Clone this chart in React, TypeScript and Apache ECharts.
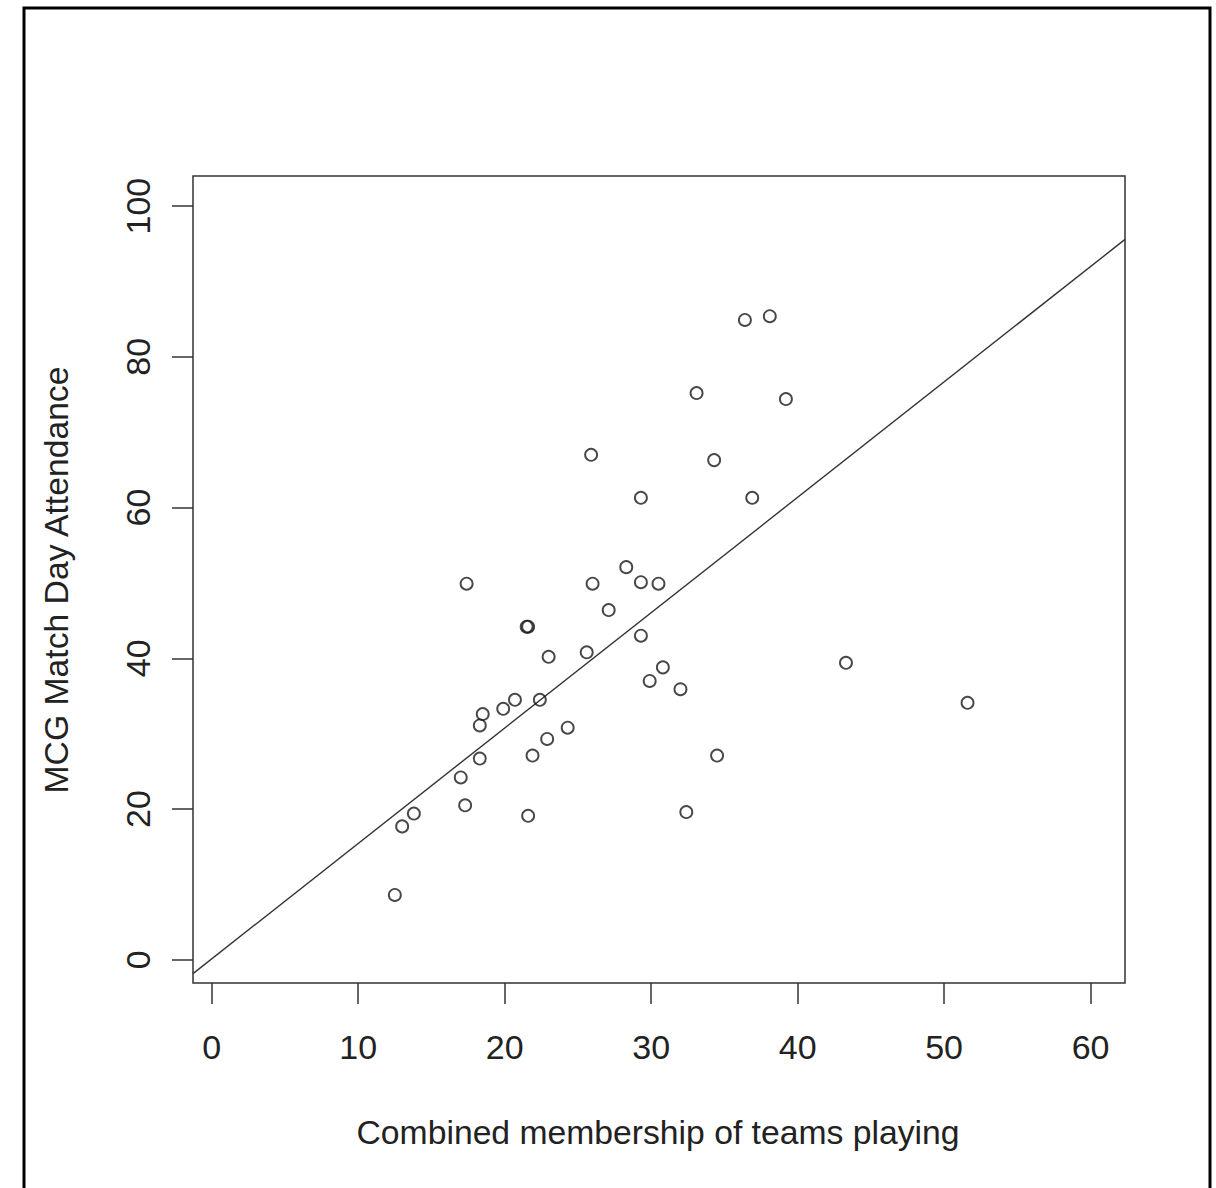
import React, { useEffect, useRef } from "react";
import * as echarts from "echarts";

// Combined membership of teams playing (x) and MCG match day attendance (y)
const membership = [
  12.5, 13.0, 13.8, 17.0, 17.3, 17.4, 18.3, 18.5, 18.3, 19.9,
  20.7, 21.6, 21.5, 21.6, 21.9, 22.4, 22.9, 23.0, 24.3, 25.6,
  25.9, 26.0, 27.1, 28.3, 29.3, 29.3, 29.3, 29.9, 30.5, 30.8,
  32.0, 32.4, 33.1, 34.3, 34.5, 36.4, 36.9, 38.1, 39.2, 43.3,
  51.6,
];
const attendance = [
  8.6, 17.7, 19.4, 24.2, 20.5, 49.9, 31.1, 32.6, 26.7, 33.3,
  34.5, 19.1, 44.2, 44.2, 27.1, 34.5, 29.3, 40.2, 30.8, 40.8,
  67.0, 49.9, 46.4, 52.1, 61.3, 50.1, 43.0, 37.0, 49.9, 38.8,
  35.9, 19.6, 75.2, 66.3, 27.1, 84.9, 61.3, 85.4, 74.4, 39.4,
  34.1,
];

const fitIntercept = 0.13;
const fitSlope = 1.531;

// Axis extents and tick labels
const xRange = [-1.28, 62.35];
const yRange = [-3.08, 104.0];
const xTicks = [0, 10, 20, 30, 40, 50, 60];
const yTicks = [0, 20, 40, 60, 80, 100];

const xTitle = "Combined membership of teams playing";
const yTitle = "MCG Match Day Attendance";

export default function App() {
  const ref = useRef<HTMLDivElement>(null);

  useEffect(() => {
    if (!ref.current) return;
    const chart = echarts.init(ref.current, null, { renderer: "svg" });
    const font = "'Liberation Sans', Arial, sans-serif";
    const ink = "#222";
    const points = membership.map((x, i) => [x, attendance[i]]);
    const fitLine = xRange.map((x) => [x, fitIntercept + fitSlope * x]);

    chart.setOption({
      animation: false,
      backgroundColor: "#fff",
      grid: {
        left: 193,
        top: 176,
        width: 932,
        height: 807,
        show: true,
        borderColor: "#333",
        borderWidth: 1.5,
        backgroundColor: "transparent",
      },
      xAxis: {
        type: "value",
        min: xRange[0],
        max: xRange[1],
        axisLine: { show: false, onZero: false },
        splitLine: { show: false },
        axisTick: {
          show: true,
          inside: false,
          length: 21,
          customValues: xTicks,
          lineStyle: { color: "#333", width: 1.5 },
        },
        axisLabel: {
          customValues: xTicks,
          margin: 47,
          fontSize: 34,
          fontFamily: font,
          color: ink,
        },
      },
      yAxis: {
        type: "value",
        min: yRange[0],
        max: yRange[1],
        axisLine: { show: false, onZero: false },
        splitLine: { show: false },
        axisTick: {
          show: true,
          inside: false,
          length: 21,
          customValues: yTicks,
          lineStyle: { color: "#333", width: 1.5 },
        },
        axisLabel: {
          customValues: yTicks,
          rotate: 90,
          margin: 38,
          fontSize: 34,
          fontFamily: font,
          color: ink,
        },
      },
      series: [
        {
          type: "line",
          data: fitLine,
          symbol: "none",
          silent: true,
          lineStyle: { color: "#333", width: 1.4 },
          z: 1,
        },
        {
          type: "scatter",
          data: points,
          symbol: "circle",
          symbolSize: 12,
          itemStyle: {
            color: "rgba(255,255,255,0)",
            borderColor: "#1a1a1a",
            borderWidth: 1.9,
          },
          z: 2,
        },
      ],
      graphic: [
        {
          type: "rect",
          shape: { x: 24, y: 8, width: 1186, height: 1210 },
          style: { fill: "none", stroke: "#000", lineWidth: 3 },
          silent: true,
        },
        {
          type: "text",
          x: 658,
          y: 1132,
          style: {
            text: xTitle,
            font: `33.7px ${font}`,
            fill: ink,
            textAlign: "center",
            textVerticalAlign: "middle",
          },
        },
        {
          type: "text",
          x: 56,
          y: 580,
          rotation: Math.PI / 2,
          style: {
            text: yTitle,
            font: `33.7px ${font}`,
            fill: ink,
            textAlign: "center",
            textVerticalAlign: "middle",
          },
        },
      ],
    });

    return () => chart.dispose();
  }, []);

  return (
    <div
      ref={ref}
      style={{ position: "fixed", left: 0, top: 0, width: 1216, height: 1188 }}
    />
  );
}
